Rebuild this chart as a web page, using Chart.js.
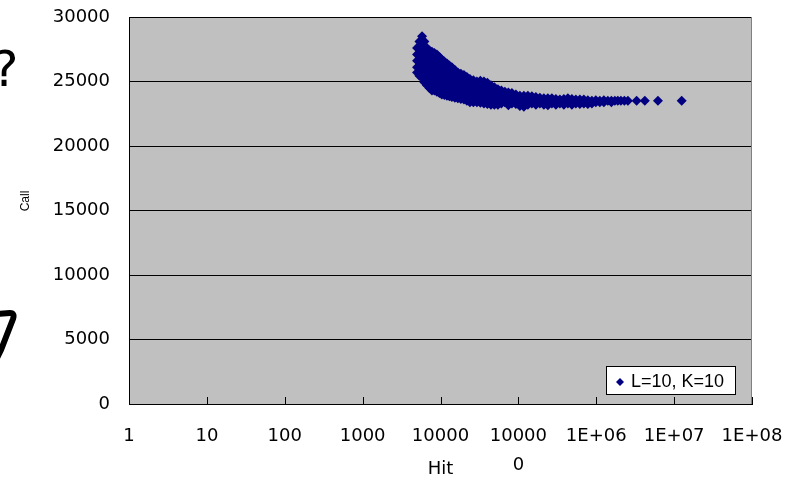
<!DOCTYPE html>
<html>
<head>
<meta charset="utf-8">
<script src="https://cdn.jsdelivr.net/npm/chart.js@4.4.1/dist/chart.umd.min.js"></script>
<style>
  html, body { margin: 0; padding: 0; background: #fff; }
  #wrap { width: 787px; height: 480px; position: relative; }
</style>
</head>
<body>
<div id="wrap"><canvas id="chart"></canvas></div>
<script>
// hit counts (x) and the call counts measured at each of them (y)
const hitValues = [5000, 5360, 5800, 6210, 6700, 7210, 7760, 8350, 8990, 9680,
  10400, 11220, 12100, 13010, 14000, 15300, 16700, 18270, 20000, 21830,
  23900, 26440, 29300, 32520, 36100, 40000, 44400, 49200, 54600, 60500,
  67100, 74450, 82600, 92900, 104500, 117700, 132400, 149000, 167800, 188900,
  212600, 239300, 269300, 303000, 341200, 383700, 432000, 486100, 547000, 615800,
  693000, 780000, 879000, 988000, 1112000, 1252000, 1409000, 1563000, 1733000, 1892000,
  2070000, 2296000, 2550000, 3300000, 4200000, 6200000, 12500000];
const callValues = [
  [27600, 27100, 26600, 26100, 25700],
  [28100, 27750, 27250, 26750, 26250, 25750, 25450],
  [28500, 28000, 27500, 27000, 26500, 26000, 25600, 25300],
  [28100, 27750, 27250, 26750, 26250, 25750, 25250, 24950],
  [27600, 27100, 26600, 26100, 25600, 25100, 24700],
  [27400, 26850, 26350, 25850, 25350, 24850, 24500],
  [27300, 26800, 26300, 25800, 25300, 24800, 24300],
  [27200, 26750, 26250, 25750, 25250, 24750, 24300],
  [27100, 26600, 26100, 25600, 25100, 24600, 24200],
  [26900, 26450, 25950, 25450, 24950, 24450, 24100],
  [26700, 26200, 25700, 25200, 24700, 24300, 24000],
  [26550, 26150, 25650, 25150, 24650, 24150, 23950],
  [26400, 25900, 25400, 24900, 24400, 23900],
  [26250, 25850, 25350, 24850, 24350, 23850],
  [26100, 25600, 25100, 24600, 24200, 23800],
  [25900, 25450, 24950, 24450, 23950, 23750],
  [25700, 25200, 24700, 24200, 23700],
  [25600, 25250, 24750, 24250, 23750, 23650],
  [25500, 25000, 24500, 24000, 23600],
  [25350, 24950, 24450, 23950, 23500],
  [25200, 24700, 24200, 23800, 23400],
  [25100, 24750, 24250, 23750, 23400],
  [25000, 24500, 24000, 23600, 23400],
  [25050, 24750, 24250, 23800, 23350],
  [25000, 24500, 24000, 23700, 23300],
  [24900, 24450, 23950, 23450, 23250],
  [24700, 24200, 23700, 23200],
  [24550, 24050, 23550, 23200],
  [24400, 23900, 23500, 23200],
  [24300, 23950, 23650, 23300],
  [24200, 23800, 23400],
  [24150, 23750, 23350, 23150],
  [24100, 23700, 23300],
  [24000, 23650, 23250],
  [23900, 23500, 23100],
  [23900, 23650, 23300, 23050],
  [23900, 23500, 23200],
  [23850, 23600, 23300],
  [23800, 23400, 23200],
  [23750, 23550, 23300],
  [23700, 23400, 23200],
  [23700, 23450, 23150],
  [23700, 23300],
  [23650, 23450, 23200],
  [23600, 23300],
  [23650, 23450, 23200],
  [23700, 23300],
  [23650, 23450, 23200],
  [23600, 23300],
  [23600, 23450, 23250],
  [23600, 23300],
  [23550, 23400, 23250],
  [23500, 23300],
  [23550, 23400],
  [23500, 23400],
  [23550, 23400],
  [23500],
  [23500, 23400],
  [23500],
  [23500],
  [23500],
  [23500],
  [23500],
  [23500],
  [23500],
  [23500],
  [23500]
];
const xTickValues = [1, 10, 100, 1000, 10000, 100000, 1e6, 1e7, 1e8];
const xTickLabels = ['1', '10', '100', '1000', '10000', ['10000', '0'], '1E+06', '1E+07', '1E+08'];
const seriesLabel = 'L=10, K=10';

const points = [];
hitValues.forEach((hit, i) => {
  callValues[i].forEach(call => points.push({x: hit, y: call}));
});

const plotDecor = {
  id: 'plotDecor',
  beforeDraw(chart) {
    const {ctx, chartArea: a} = chart;
    ctx.save();
    ctx.fillStyle = '#c0c0c0';
    ctx.fillRect(a.left, a.top, a.right - a.left, a.bottom - a.top);
    ctx.restore();
  },
  afterDraw(chart) {
    const {ctx, chartArea: a, scales} = chart;
    ctx.save();

    // right edge of plot area
    ctx.strokeStyle = '#808080';
    ctx.lineWidth = 1;
    ctx.beginPath();
    ctx.moveTo(a.right - 0.5, a.top);
    ctx.lineTo(a.right - 0.5, a.bottom);
    ctx.stroke();

    // x tick marks point into the plot
    ctx.strokeStyle = '#000';
    xTickValues.forEach(v => {
      const px = Math.round(scales.x.getPixelForValue(v)) + 0.5;
      ctx.beginPath();
      ctx.moveTo(px, a.bottom);
      ctx.lineTo(px, a.bottom - 7);
      ctx.stroke();
    });

    // legend box
    const bw = 129, bh = 28;
    const bx = a.right - 17 - bw, by = a.bottom - 10 - bh;
    ctx.fillStyle = '#fff';
    ctx.fillRect(bx, by, bw, bh);
    ctx.strokeStyle = '#000';
    ctx.strokeRect(bx + 0.5, by + 0.5, bw, bh);
    const mx = bx + 14, my = by + 16;
    ctx.fillStyle = '#000080';
    ctx.beginPath();
    ctx.moveTo(mx, my - 4);
    ctx.lineTo(mx + 4, my);
    ctx.lineTo(mx, my + 4);
    ctx.lineTo(mx - 4, my);
    ctx.closePath();
    ctx.fill();
    ctx.fillStyle = '#000';
    ctx.font = '18px "Liberation Sans", Arial, sans-serif';
    ctx.textAlign = 'left';
    ctx.textBaseline = 'middle';
    ctx.fillText(seriesLabel, bx + 25, my);

    // y axis title
    ctx.save();
    ctx.translate(26, 201);
    ctx.rotate(-Math.PI / 2);
    ctx.font = '12px "Liberation Sans", Arial, sans-serif';
    ctx.textAlign = 'center';
    ctx.textBaseline = 'middle';
    ctx.fillText('Call', 0, 0);
    ctx.restore();

    // bits of the slide cut off on the left
    ctx.font = '50px "DejaVu Sans", sans-serif';
    ctx.textAlign = 'left';
    ctx.textBaseline = 'alphabetic';
    ctx.fillText('?', -8, 86);
    ctx.lineWidth = 6;
    ctx.lineJoin = 'round';
    ctx.beginPath();
    ctx.moveTo(-3, 314);
    ctx.lineTo(10, 313);
    ctx.quadraticCurveTo(15, 313, 13, 319);
    ctx.lineTo(1, 350);
    ctx.lineTo(-3, 358);
    ctx.stroke();

    ctx.restore();
  }
};

const tickFont = {family: '"DejaVu Sans", sans-serif', size: 18};

new Chart(document.getElementById('chart'), {
  type: 'scatter',
  data: {
    datasets: [{
      label: seriesLabel,
      data: points,
      pointStyle: 'rectRot',
      pointRadius: 5,
      backgroundColor: '#000080',
      borderColor: '#000080',
      borderWidth: 0
    }]
  },
  options: {
    responsive: true,
    maintainAspectRatio: false,
    animation: false,
    layout: {padding: {top: 17, right: 35, bottom: 0, left: 0}},
    plugins: {
      legend: {display: false},
      tooltip: {enabled: false}
    },
    scales: {
      x: {
        type: 'logarithmic',
        min: 1,
        max: 1e8,
        afterBuildTicks: s => { s.ticks = xTickValues.map(v => ({value: v})); },
        afterFit: s => {
          s.height = 76;
          s.paddingLeft = 0;
          s.paddingRight = 0;
        },
        grid: {display: false, drawTicks: false},
        border: {display: true, color: '#000', width: 1},
        ticks: {
          autoSkip: false,
          maxRotation: 0,
          padding: 18,
          color: '#000',
          font: {family: tickFont.family, size: 18, lineHeight: 1.6},
          callback: (v, i) => xTickLabels[i]
        },
        title: {
          display: true,
          text: 'Hit',
          color: '#000',
          font: tickFont,
          padding: 0
        }
      },
      y: {
        min: 0,
        max: 30000,
        afterFit: s => {
          s.width = 129;
          s.paddingTop = 0;
          s.paddingBottom = 0;
        },
        grid: {color: '#000', lineWidth: 1, drawTicks: false},
        border: {display: true, color: '#000', width: 1},
        ticks: {
          stepSize: 5000,
          padding: 19,
          color: '#000',
          font: tickFont,
          callback: v => String(v)
        }
      }
    }
  },
  plugins: [plotDecor]
});
</script>
</body>
</html>
